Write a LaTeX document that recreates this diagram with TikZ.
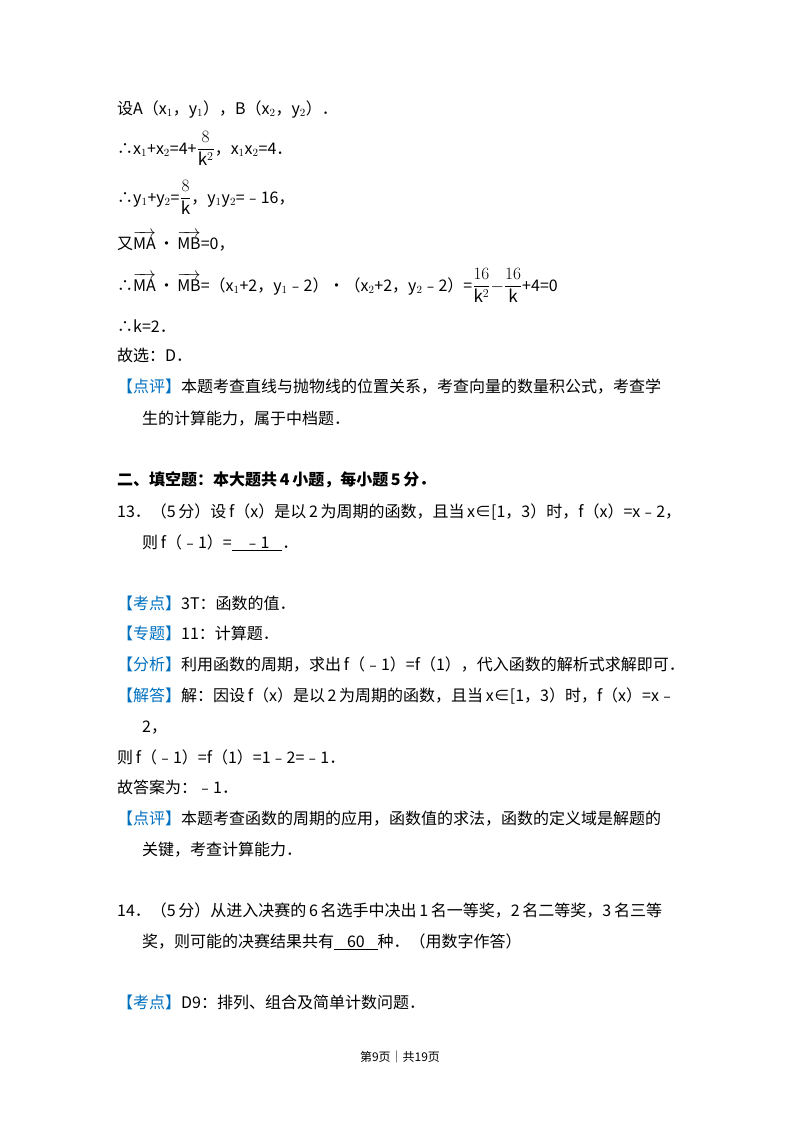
\documentclass[tikz,border=0pt]{standalone}
\usepackage{fontspec}
\usepackage{amsmath}
\setmainfont{Noto Sans CJK SC}
\definecolor{kblue}{RGB}{0,112,192}
\newcommand{\kb}[1]{\textcolor{kblue}{【#1】}}
\newcommand{\vv}[1]{\overrightarrow{\mathrm{#1}}}
\newcommand{\fr}[2]{{\fontsize{17}{20}\selectfont$\dfrac{#1}{#2}$}}
\begin{document}
\begin{tikzpicture}[x=1pt,y=-1pt,
  ln/.style={anchor=base west,inner sep=0pt,font=\fontsize{16}{18}\selectfont}]
\useasboundingbox[fill=white] (0,0) rectangle (800,1132);
\node[ln] (l1) at (117,114) {设A（x$_1$，y$_1$），B（x$_2$，y$_2$）．};
\node[ln] (l2) at (117,154) {∴x$_1$+x$_2$=4+\fr{8}{\mathrm{k}^2}，x$_1$x$_2$=4．};
\node[ln] (l3) at (117,203) {∴y$_1$+y$_2$=\fr{8}{\mathrm{k}}，y$_1$y$_2$=﹣16，};
\node[ln] (l4) at (117,249) {又$\vv{MA}$\,•\,$\vv{MB}$=0，};
\node[ln] (l5) at (117,291) {∴$\vv{MA}$\,•\,$\vv{MB}$=（x$_1$+2，y$_1$﹣2）•（x$_2$+2，y$_2$﹣2）=\fr{16}{\mathrm{k}^2}$-$\fr{16}{\mathrm{k}}+4=0};
\node[ln] (l6) at (117,332) {∴k=2．};
\node[ln] (l7) at (117,361) {故选：D．};
\node[ln] (l8) at (117,392) {\kb{点评}本题考查直线与抛物线的位置关系，考查向量的数量积公式，考查学};
\node[ln] (l9) at (142,424) {生的计算能力，属于中档题．};
\node[ln,font=\fontsize{16}{18}\selectfont\bfseries] (h2) at (117,485) {二、填空题：本大题共\,4\,小题，每小题\,5\,分．};
\node[ln] (q13) at (117,517) {13．（5\,分）设\,f（x）是以\,2\,为周期的函数，且当\,x∈[1，3）时，f（x）=x﹣2，};
\node[ln] (q13b) at (142,548) {则\,f（﹣1）=\underline{\hspace{0.8em}﹣1\hspace{0.8em}}．};
\node[ln] (k1) at (117,609) {\kb{考点}3T：函数的值．};
\node[ln] (k2) at (117,639) {\kb{专题}11：计算题．};
\node[ln] (k3) at (117,670) {\kb{分析}利用函数的周期，求出\,f（﹣1）=f（1），代入函数的解析式求解即可．};
\node[ln] (k4) at (117,701) {\kb{解答}解：因设\,f（x）是以\,2\,为周期的函数，且当\,x∈[1，3）时，f（x）=x﹣};
\node[ln] (k5) at (142,732) {2，};
\node[ln] (k6) at (117,763) {则\,f（﹣1）=f（1）=1﹣2=﹣1．};
\node[ln] (k7) at (117,793) {故答案为：﹣1．};
\node[ln] (k8) at (117,824) {\kb{点评}本题考查函数的周期的应用，函数值的求法，函数的定义域是解题的};
\node[ln] (k9) at (142,855) {关键，考查计算能力．};
\node[ln] (q14) at (117,916) {14．（5\,分）从进入决赛的\,6\,名选手中决出\,1\,名一等奖，2\,名二等奖，3\,名三等};
\node[ln] (q14b) at (142,947) {奖，则可能的决赛结果共有\underline{\hspace{0.8em}60\hspace{0.8em}}种．（用数字作答）};
\node[ln] (k10) at (117,1008) {\kb{考点}D9：排列、组合及简单计数问题．};
\node[anchor=base,inner sep=0pt,font=\fontsize{12}{14}\selectfont] (ft) at (400,1061) {第9页｜共19页};
\end{tikzpicture}
\end{document}
